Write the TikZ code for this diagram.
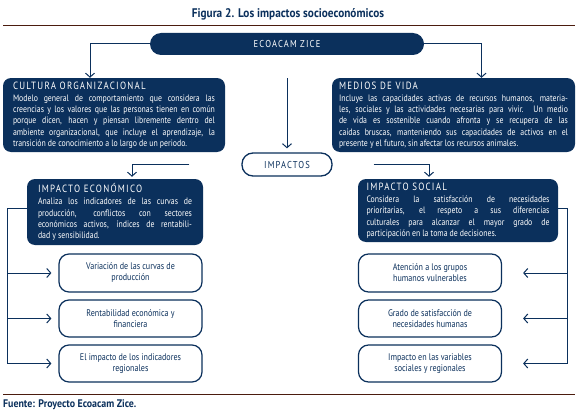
\documentclass[tikz,border=0pt]{standalone}
\usepackage{fontspec}
\setmainfont{PT Sans}[FakeStretch=0.84]
\newfontfamily\capsfont{PT Sans}[FakeStretch=0.85,LetterSpace=12]
\newfontfamily\titlefont{PT Sans}[FakeStretch=0.9]
\usepackage{tikz}
\usetikzlibrary{arrows.meta, positioning}
\definecolor{navyblue}{HTML}{0B305C}
\definecolor{rulebrown}{HTML}{4B1C0E}
\newcommand{\boxhead}[1]{{\capsfont\fontsize{10.5}{12}\selectfont #1}\\[1pt]}
\tikzset{
	darkbox/.style={fill=navyblue, text=white, rounded corners=8pt, align=justify,
		text width=#1, font=\fontsize{9.3}{11.2}\selectfont},
	whitebox/.style={draw=navyblue, line width=1.2pt, fill=white, rounded corners=10pt,
		text=navyblue, align=center, minimum width=143pt, minimum height=37pt,
		font=\fontsize{9.6}{11}\selectfont},
	conn/.style={draw=navyblue, line width=1pt, -{Straight Barb[length=4pt,width=9pt]}}
}

\begin{document}
\begin{tikzpicture}[x=1pt, y=-1pt]
				\fill[white] (0,0) rectangle (578,412);
				\useasboundingbox (0,0) rectangle (578,412);

				\node[text=navyblue, font=\titlefont\bfseries\fontsize{12.5}{14}\selectfont] (title) at (288,14) {Figura 2. Los impactos socioeconómicos};
				\draw[rulebrown, line width=1pt] (3,26) -- (575,26);

				\node[fill=navyblue, text=white, rounded corners=11pt, minimum width=274pt,
				minimum height=22pt, font=\capsfont\fontsize{10}{12}\selectfont] (eco) at (287,44) {ECOACAM ZICE};

				\node[darkbox=202pt, inner xsep=10pt, minimum height=74pt] (cultura) at (114,115) {
					\boxhead{CULTURA ORGANIZACIONAL}
					Modelo general de comportamiento que considera las\linebreak
					creencias y los valores que las personas tienen en común\linebreak
					porque dicen, hacen y piensan libremente dentro del\linebreak
					ambiente organizacional, que incluye el aprendizaje, la\linebreak
					transición de conocimiento a lo largo de un periodo.
				};
				\node[darkbox=229pt, inner xsep=7pt, minimum height=74pt] (medios) at (453.5,115) {
					\boxhead{MEDIOS DE VIDA}
					Incluye las capacidades activas de recursos humanos, materia-\linebreak
					les, sociales y las actividades necesarias para vivir. Un medio\linebreak
					de vida es sostenible cuando afronta y se recupera de las\linebreak
					caídas bruscas, manteniendo sus capacidades de activos en el\linebreak
					presente y el futuro, sin afectar los recursos animales.
				};

				\node[draw=navyblue, line width=1.3pt, fill=white, rounded corners=11pt,
				minimum width=90pt, minimum height=23pt, text=navyblue,
				font=\capsfont\fontsize{10}{12}\selectfont] (impactos) at (287,164.5) {IMPACTOS};

				\node[darkbox=154pt, inner xsep=11pt, minimum height=66pt] (econ) at (115,212) {
					\boxhead{IMPACTO ECONÓMICO}
					Analiza los indicadores de las curvas de\linebreak
					producción, conflictos con sectores\linebreak
					económicos activos, índices de rentabili-\linebreak
					dad y sensibilidad.
				};
				\node[darkbox=183pt, inner xsep=8.5pt, minimum height=63pt] (social) at (458,210.5) {
					\boxhead{IMPACTO SOCIAL}
					Considera la satisfacción de necesidades\linebreak
					prioritarias, el respeto a sus diferencias\linebreak
					culturales para alcanzar el mayor grado de\linebreak
					participación en la toma de decisiones.
				};

				\node[whitebox, minimum height=38pt] (econA) at (130.5,273) {Variación de las curvas de\\producción};
				\node[whitebox] (econB) at (130.5,318.5) {Rentabilidad económica y\\financiera};
				\node[whitebox] (econC) at (130.5,363.5) {El impacto de los indicadores\\regionales};

				\node[whitebox, minimum height=38pt] (socialA) at (430,273) {Atención a los grupos\\humanos vulnerables};
				\node[whitebox] (socialB) at (430,318.5) {Grado de satisfacción de\\necesidades humanas};
				\node[whitebox] (socialC) at (430,363.5) {Impacto en las variables\\sociales y regionales};

				\draw[conn] (eco.west) -| ([xshift=-24pt]cultura.north);
				\draw[conn] (eco.east) -| ([xshift=28pt]medios.north);
				\draw[conn, shorten <=23pt, shorten >=4pt] (eco.south) -- (impactos.north);
				\draw[conn, shorten <=52pt, shorten >=2pt] (impactos.west) -| ([xshift=17pt]econ.north);
				\draw[conn, shorten <=41pt, shorten >=2pt] (impactos.east) -| ([xshift=-29pt]social.north);

				\draw[conn] ([yshift=4pt]econ.west) -- ++(-19,0) coordinate (leftbus) |- ([xshift=-7pt]econC.west);
				\draw[conn] (leftbus |- econA.west) -- ([xshift=-7pt]econA.west);
				\draw[conn] (leftbus |- econB.west) -- ([xshift=-7pt]econB.west);

				\draw[conn] ([yshift=2pt]social.east) -- ++(9,0) coordinate (rightbus) |- ([xshift=21pt]socialC.east);
				\draw[conn] (rightbus |- socialA.east) -- ([xshift=21pt]socialA.east);
				\draw[conn] (rightbus |- socialB.east) -- ([xshift=21pt]socialB.east);

				\draw[rulebrown, line width=1pt] (3,394) -- (575,394);
				\node[anchor=west, text=navyblue, inner sep=0pt, font=\titlefont\bfseries\fontsize{11}{13}\selectfont] (fuente) at (3,405) {Fuente: Proyecto Ecoacam Zice.};
			\end{tikzpicture}
\end{document}
